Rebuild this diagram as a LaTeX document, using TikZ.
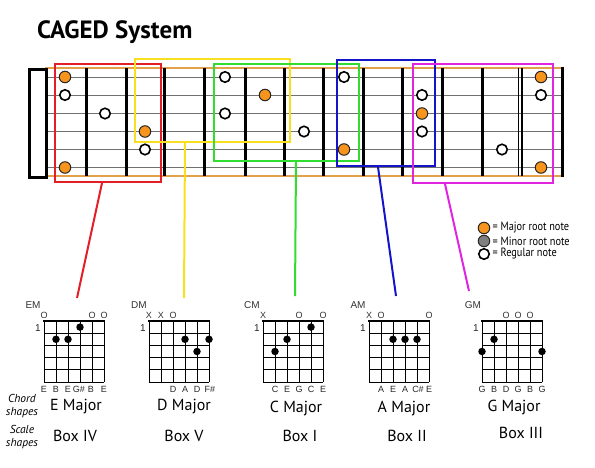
\documentclass[tikz,border=0pt]{standalone}
\usepackage{fontspec}
\setmainfont{PT Sans}
\newfontfamily\arialf{Liberation Sans}
\newfontfamily\narrowf[FakeStretch=0.86]{PT Sans}
\usetikzlibrary{calc}
\definecolor{rootorange}{HTML}{F7941D}
\definecolor{edgeor}{HTML}{E3A24A}
\definecolor{strg}{HTML}{707070}
\definecolor{bred}{HTML}{E41E26}
\definecolor{byel}{HTML}{F8E020}
\definecolor{bgrn}{HTML}{30DD30}
\definecolor{bblu}{HTML}{1414C8}
\definecolor{bmag}{HTML}{E024E0}
\definecolor{mgray}{HTML}{7F7F7F}
\tikzset{
  fretline/.style={line width=3pt, black},
  stringline/.style={line width=0.9pt, strg},
  edgeline/.style={line width=2.2pt, edgeor},
  rootdot/.style={circle, draw=black!85, line width=1pt, fill=rootorange, minimum size=11.5pt, inner sep=0pt},
  notedot/.style={circle, draw=black, line width=1.6pt, fill=white, minimum size=10.5pt, inner sep=0pt},
  minordot/.style={circle, draw=black!85, line width=1pt, fill=mgray, minimum size=11.5pt, inner sep=0pt},
  cagebox/.style={rectangle, draw=#1, line width=2pt, anchor=north west, inner sep=0pt},
  conn/.style={line width=2pt, #1},
  cgrid/.style={line width=0.9pt, black},
  cdot/.style={circle, fill=black, minimum size=7.5pt, inner sep=0pt},
  chname/.style={font=\arialf\fontsize{10}{10}\selectfont, text=black!80, inner sep=0pt},
  openm/.style={font=\arialf\fontsize{9}{9}\selectfont, text=black!80, inner sep=0pt},
  notel/.style={font=\arialf\fontsize{9}{9}\selectfont, text=black!85, inner sep=0pt},
  fretnum/.style={font=\arialf\fontsize{10}{10}\selectfont, text=black!85, inner sep=0pt},
  majlabel/.style={font=\fontsize{16}{16}\selectfont, inner sep=0pt},
  sidelabel/.style={font=\itshape\fontsize{11.5}{12.5}\selectfont, align=center, inner sep=0pt},
  legtext/.style={font=\narrowf\fontsize{12}{12}\selectfont, anchor=west, inner sep=0pt},
}
\newcommand\chordgrid[1]{%
  \foreach \i in {0,...,5} \draw[cgrid] (12*\i,0) -- (12*\i,61);
  \foreach \j in {1,...,5} \draw[cgrid] (0,12.2*\j) -- (60,12.2*\j);
  \draw[line width=2.4pt] (-0.6,0) -- (60.6,0);
  \node[fretnum] (#1fret) at (-6,7) {1};
}
\begin{document}
\begin{tikzpicture}[x=1pt,y=-1pt]
\useasboundingbox (0,0) rectangle (595,467);
\fill[white] (0,0) rectangle (595,467);

% title
\node[anchor=base west, font=\bfseries\fontsize{25}{25}\selectfont, inner sep=0pt] (title) at (37,38) {CAGED System};

% fretboard
\draw[edgeline] (45,68) -- (562,68);
\draw[edgeline] (45,176) -- (562,176);
\foreach \y in {77,95,113.5,131.5,149.5,167.5} \draw[stringline] (45,\y) -- (562,\y);
\foreach \x in {86,126,164,204,245,284,323,363,402,442,482} \draw[fretline] (\x,68) -- (\x,176);
\draw[line width=1.8pt] (518.5,68) -- (518.5,176);
\draw[line width=1.8pt] (522.2,68) -- (522.2,176);
\draw[fretline] (562,66.9) -- (562,177.1);
\node[draw=black, line width=3pt, fill=white, minimum width=17pt, minimum height=108pt, inner sep=0pt, anchor=north west] (nut) at (28,68) {};

% dots
\foreach \x/\y/\n in {65/77/a,65/167.5/b,145/131.5/c,265/95/d,344/149.5/e,422/113.5/f,541/77/g,541/167.5/h}
  \node[rootdot] (r\n) at (\x,\y) {};
\foreach \x/\y/\n in {65/95/a,105/113.5/b,145/149.5/c,225/77/d,225/113.5/e,304/131.5/f,344/77/g,422/95/h,422/131.5/i,502/149.5/j,541/95/k}
  \node[notedot] (w\n) at (\x,\y) {};

% CAGED boxes
\node[cagebox=bred, minimum width=106pt, minimum height=118pt] (redbox) at (54,63) {};
\node[cagebox=byel, minimum width=155pt, minimum height=83pt] (yelbox) at (134,58) {};
\node[cagebox=bgrn, minimum width=145pt, minimum height=97pt] (grnbox) at (213,63) {};
\node[cagebox=bblu, minimum width=98pt, minimum height=106pt] (blubox) at (336,59) {};
\node[cagebox=bmag, minimum width=140pt, minimum height=119pt] (magbox) at (412,63) {};

% connector ends
\coordinate (redend) at (77,298);
\coordinate (yelend) at (184,298);
\coordinate (grnend) at (295,296);
\coordinate (bluend) at (396,296);
\coordinate (magend) at (469,291);
\draw[conn=bred] ([xshift=-6pt]redbox.south) -- (redend);
\draw[conn=byel] ([xshift=-27.5pt]yelbox.south) -- (yelend);
\draw[conn=bgrn] ([xshift=9.5pt]grnbox.south) -- (grnend);
\draw[conn=bblu] ([xshift=-8pt]blubox.south) -- (bluend);
\draw[conn=bmag] ([xshift=-38pt]magbox.south) -- (magend);

% legend
\node[rootdot] (lg1) at (484,228) {};
\node[minordot] (lg2) at (484,241) {};
\node[notedot] (lg3) at (484,254) {};
\node[legtext] (lt1) at (492.5,228) {= Major root note};
\node[legtext] (lt2) at (492.5,241) {= Minor root note};
\node[legtext] (lt3) at (492.5,254) {= Regular note};

% E chord
\begin{scope}[shift={(44,321)}]
  \chordgrid{e}
  \node[chname] (ename) at (-11,-16) {EM};
  \node[openm] (eo1) at (0,-6) {O};
  \node[openm] (eo2) at (48,-6) {O};
  \node[openm] (eo3) at (60,-6) {O};
  \node[cdot] (ed1) at (36,6.1) {};
  \node[cdot] (ed2) at (12,18.3) {};
  \node[cdot] (ed3) at (24,18.3) {};
  \node[notel] (en1) at (0,68) {E};
  \node[notel] (en2) at (12,68) {B};
  \node[notel] (en3) at (24,68) {E};
  \node[notel] (en4) at (35,68) {G\#};
  \node[notel] (en5) at (47,68) {B};
  \node[notel] (en6) at (60,68) {E};
\end{scope}

% D chord
\begin{scope}[shift={(149,321)}]
  \chordgrid{d}
  \node[chname] (dname) at (-10,-16) {DM};
  \node[openm] (dx1) at (0,-6) {X};
  \node[openm] (dx2) at (12,-6) {X};
  \node[openm] (do1) at (24,-6) {O};
  \node[cdot] (dd1) at (36,18.3) {};
  \node[cdot] (dd2) at (60,18.3) {};
  \node[cdot] (dd3) at (48,30.5) {};
  \node[notel] (dn1) at (24,68) {D};
  \node[notel] (dn2) at (36,68) {A};
  \node[notel] (dn3) at (48,68) {D};
  \node[notel] (dn4) at (61,68) {F\#};
\end{scope}

% C chord
\begin{scope}[shift={(263,321)}]
  \chordgrid{c}
  \node[chname] (cname) at (-11,-16) {CM};
  \node[openm] (cx1) at (0,-6) {X};
  \node[openm] (co1) at (36,-6) {O};
  \node[openm] (co2) at (60,-6) {O};
  \node[cdot] (cd1) at (48,6.1) {};
  \node[cdot] (cd2) at (24,18.3) {};
  \node[cdot] (cd3) at (12,30.5) {};
  \node[notel] (cn1) at (12,68) {C};
  \node[notel] (cn2) at (24,68) {E};
  \node[notel] (cn3) at (36,68) {G};
  \node[notel] (cn4) at (48,68) {C};
  \node[notel] (cn5) at (60,68) {E};
\end{scope}

% A chord
\begin{scope}[shift={(369,321)}]
  \chordgrid{a}
  \node[chname] (aname) at (-11,-16) {AM};
  \node[openm] (ax1) at (0,-6) {X};
  \node[openm] (ao1) at (12,-6) {O};
  \node[openm] (ao2) at (60,-6) {O};
  \node[cdot] (ad1) at (24,18.3) {};
  \node[cdot] (ad2) at (36,18.3) {};
  \node[cdot] (ad3) at (48,18.3) {};
  \node[notel] (an1) at (12,68) {A};
  \node[notel] (an2) at (24,68) {E};
  \node[notel] (an3) at (36,68) {A};
  \node[notel] (an4) at (49,68) {C\#};
  \node[notel] (an5) at (60,68) {E};
\end{scope}

% G chord
\begin{scope}[shift={(482,321)}]
  \chordgrid{g}
  \node[chname] (gname) at (-9,-16) {GM};
  \node[openm] (go1) at (24,-6) {O};
  \node[openm] (go2) at (36,-6) {O};
  \node[openm] (go3) at (48,-6) {O};
  \node[cdot] (gd1) at (12,18.3) {};
  \node[cdot] (gd2) at (0,30.5) {};
  \node[cdot] (gd3) at (60,30.5) {};
  \node[notel] (gn1) at (0,68) {G};
  \node[notel] (gn2) at (12,68) {B};
  \node[notel] (gn3) at (24,68) {D};
  \node[notel] (gn4) at (36,68) {G};
  \node[notel] (gn5) at (48,68) {B};
  \node[notel] (gn6) at (60,68) {G};
\end{scope}

% side labels
\node[sidelabel] (chordshapes) at (22,406) {Chord\\shapes};
\node[sidelabel] (scaleshapes) at (22,437) {Scale\\shapes};

% chord / box names
\node[majlabel] (emaj) at (76,407) {E Major};
\node[majlabel] (dmaj) at (184,407) {D Major};
\node[majlabel] (cmaj) at (296,408) {C Major};
\node[majlabel] (amaj) at (404,408) {A Major};
\node[majlabel] (gmaj) at (514,407) {G Major};
\node[majlabel] (box4) at (75,436) {Box IV};
\node[majlabel] (box5) at (184,436) {Box V};
\node[majlabel] (box1) at (300,436) {Box I};
\node[majlabel] (box2) at (407,436) {Box II};
\node[majlabel] (box3) at (521,433) {Box III};
\end{tikzpicture}
\end{document}
